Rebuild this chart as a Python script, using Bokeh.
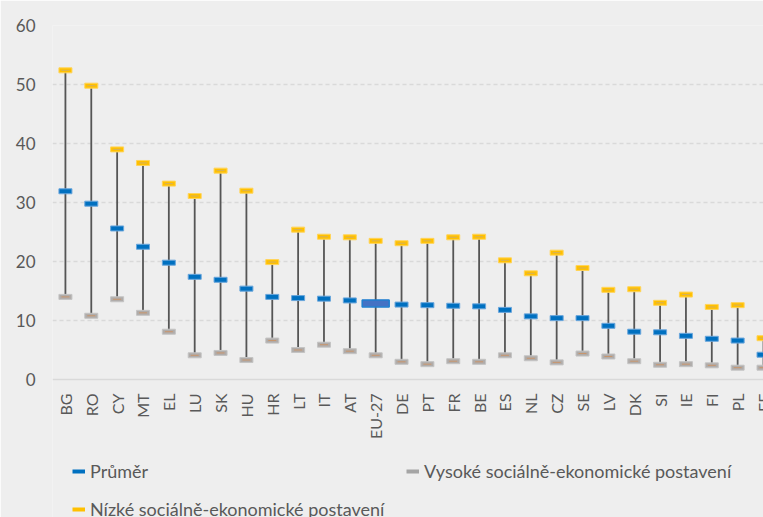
import math
from bokeh.plotting import figure
from bokeh.models import Range1d, FixedTicker, Legend, LegendItem, ColumnDataSource, Span
from bokeh.core.properties import value
from bokeh.embed import file_html
from bokeh.resources import INLINE

countries = ["BG", "RO", "CY", "MT", "EL", "LU", "SK", "HU", "HR", "LT", "IT", "AT", "EU-27",
             "DE", "PT", "FR", "BE", "ES", "NL", "CZ", "SE", "LV", "DK", "SI", "IE", "FI", "PL", "EE"]
prumer = [31.9, 29.8, 25.6, 22.5, 19.8, 17.4, 16.9, 15.4, 14.0, 13.8, 13.7, 13.4, 12.9,
          12.7, 12.6, 12.5, 12.4, 11.8, 10.7, 10.4, 10.4, 9.1, 8.1, 8.0, 7.4, 6.9, 6.6, 4.2]
vysoke = [14.0, 10.8, 13.6, 11.3, 8.1, 4.1, 4.5, 3.3, 6.6, 5.0, 5.9, 4.8, 4.1,
          3.0, 2.6, 3.1, 3.0, 4.1, 3.6, 2.9, 4.4, 3.9, 3.1, 2.5, 2.6, 2.4, 2.0, 2.0]
nizke = [52.4, 49.8, 39.0, 36.7, 33.2, 31.1, 35.4, 32.0, 19.9, 25.4, 24.2, 24.1, 23.5,
         23.1, 23.5, 24.1, 24.2, 20.2, 18.0, 21.5, 18.9, 15.2, 15.3, 13.0, 14.4, 12.3, 12.6, 7.0]
y_ticks = [0, 10, 20, 30, 40, 50, 60]
highlight = "EU-27"
legend_labels = ["Průměr", "Vysoké sociálně-ekonomické postavení", "Nízké sociálně-ekonomické postavení"]

TEXT = "#595959"
BG = "#eeeeee"
FONT = "Lato"
C_MEAN = "#0070c0"
C_HIGH = "#a5a5a5"
C_LOW = "#ffc000"

# layout (pixels)
W, H = 763, 517
TOP, ZERO_Y, LEFT = 25, 379, 52
y_min = y_ticks[0] - (y_ticks[-1] - y_ticks[0]) * (H - ZERO_Y) / (ZERO_Y - TOP)

xs = list(range(len(countries)))
src = ColumnDataSource(dict(x=xs, country=countries, prumer=prumer, vysoke=vysoke, nizke=nizke,
                            base=[y_ticks[0]] * len(countries)))
idx_norm = [i for i, c in enumerate(countries) if c != highlight]
idx_hl = [i for i, c in enumerate(countries) if c == highlight]
src_mean = ColumnDataSource(dict(x=[xs[i] for i in idx_norm], y=[prumer[i] for i in idx_norm]))
src_hl = ColumnDataSource(dict(x=[xs[i] for i in idx_hl], y=[prumer[i] for i in idx_hl]))

p = figure(width=W, height=H, x_range=Range1d(-0.5, len(countries) - 1),
           y_range=Range1d(y_min, y_ticks[-1]), x_axis_type=None,
           output_backend="svg", toolbar_location=None,
           min_border_left=LEFT, min_border_right=0, min_border_top=TOP, min_border_bottom=0,
           background_fill_color=BG, border_fill_color=BG, outline_line_color=None)

# y axis
p.yaxis.ticker = FixedTicker(ticks=y_ticks)
p.yaxis.axis_line_color = None
p.yaxis.major_tick_line_color = None
p.yaxis.minor_tick_line_color = None
p.yaxis.major_tick_out = 0
p.yaxis.major_tick_in = 0
p.yaxis.major_label_standoff = 17
p.yaxis.major_label_text_font = FONT
p.yaxis.major_label_text_font_size = "17px"
p.yaxis.major_label_text_color = TEXT

p.ygrid.ticker = FixedTicker(ticks=y_ticks[1:])
p.ygrid.grid_line_color = "#d9d9d9"
p.ygrid.grid_line_dash = "4 3"
p.ygrid.grid_line_width = 1.3

# category axis line at zero
p.add_layout(Span(location=y_ticks[0], dimension="width", line_color="#d9d9d9", line_width=1.5))

# category labels (rotated, reading upwards)
p.text(x="x", y="base", text="country", source=src, angle=math.pi / 2,
       text_align="right", text_baseline="middle", y_offset=14,
       text_font=value(FONT), text_font_size=value("16px"), text_color=TEXT)

# vertical range lines
p.segment(x0="x", y0="vysoke", x1="x", y1="nizke", source=src, line_color="#555555", line_width=1.8)

# low SES (high values) - yellow
p.rect(x="x", y="nizke", width=13, height=5, width_units="screen", height_units="screen",
       source=src, fill_color=C_LOW, line_color="#ffd45a", line_width=1)
p.scatter(x="x", y="nizke", marker="dash", size=8, source=src, line_color="#d2b060", line_width=1)

# high SES (low values) - grey
p.rect(x="x", y="vysoke", width=13, height=5, width_units="screen", height_units="screen",
       source=src, fill_color="#b0acaa", line_color="#c4c4c4", line_width=1)
p.scatter(x="x", y="vysoke", marker="dash", size=8, source=src, line_color="#c8956c", line_width=1)

# mean - blue
p.rect(x="x", y="y", width=13, height=5, width_units="screen", height_units="screen",
       source=src_mean, fill_color=C_MEAN, line_color="#6aa6dc", line_width=1)
p.rect(x="x", y="y", width=27, height=7, width_units="screen", height_units="screen",
       source=src_hl, fill_color="#4472c4", line_color="#1f7fd0", line_width=1.5)

# legend proxies (draw nothing in the plot)
nan = float("nan")
leg_mean = p.line(x=[nan], y=[nan], line_color=C_MEAN, line_width=4)
leg_vys = p.line(x=[nan], y=[nan], line_color=C_HIGH, line_width=4)
leg_niz = p.line(x=[nan], y=[nan], line_color=C_LOW, line_width=4)


def add_legend(renderer, label, loc):
    lg = Legend(items=[LegendItem(label=label, renderers=[renderer])], location=loc,
                orientation="horizontal", border_line_color=None, background_fill_alpha=0,
                padding=0, margin=0, spacing=0, glyph_width=13, glyph_height=20,
                label_standoff=5, label_height=20, label_text_font=FONT,
                label_text_font_size="18px", label_text_color=TEXT)
    p.add_layout(lg, "center")


add_legend(leg_mean, legend_labels[0], (72 - LEFT, 35))
add_legend(leg_vys, legend_labels[1], (406 - LEFT, 35))
add_legend(leg_niz, legend_labels[2], (72 - LEFT, -3))

open("out.html", "w").write(file_html(p, INLINE))
